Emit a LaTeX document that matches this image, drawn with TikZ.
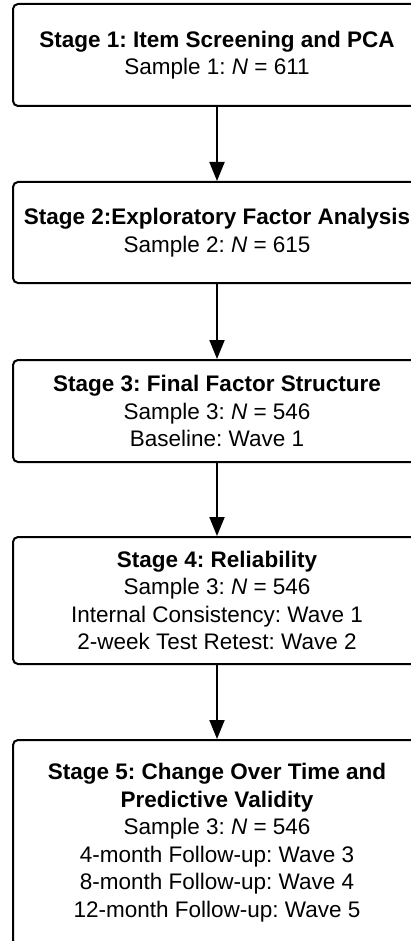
\documentclass[tikz,border=0pt]{standalone}
\usepackage{fontspec}
\setmainfont{Liberation Sans}
\usetikzlibrary{arrows.meta}
\frenchspacing

\begin{document}
\begin{tikzpicture}[x=1pt,y=1pt,
	stagebox/.style={draw,line width=2pt,rounded corners=5pt,minimum width=408pt,
		align=center,inner sep=0pt,font=\fontsize{22.5}{27.5}\selectfont}]
		\useasboundingbox (0,0) rectangle (411,-941);
		\node[stagebox,minimum height=102pt] (S1) at (217,-55) {\textbf{Stage 1: Item Screening and PCA}\\Sample 1: \textit{N} = 611};
		\node[stagebox,minimum height=101pt] (S2) at (217,-232.5) {\textbf{Stage 2:Exploratory Factor Analysis}\\Sample 2: \textit{N} = 615};
		\node[stagebox,minimum height=102pt] (S3) at (217,-411) {\textbf{Stage 3: Final Factor Structure}\\Sample 3: \textit{N} = 546\\Baseline: Wave 1};
		\node[stagebox,minimum height=127pt] (S4) at (217,-600.5) {\textbf{Stage 4: Reliability}\\Sample 3: \textit{N} = 546\\Internal Consistency: Wave 1\\2-week Test Retest: Wave 2};
		\node[stagebox,minimum height=205pt] (S5) at (217,-842.5) {\textbf{Stage 5: Change Over Time and}\\\textbf{Predictive Validity}\\Sample 3: \textit{N} = 546\\4-month Follow-up: Wave 3\\8-month Follow-up: Wave 4\\12-month Follow-up: Wave 5};
		%
		\path[-{Triangle[length=19pt,width=15pt]},line width=2pt]
		(S1) edge (S2)
		(S2) edge (S3)
		(S3) edge (S4)
		(S4) edge (S5);
	\end{tikzpicture}
\end{document}
